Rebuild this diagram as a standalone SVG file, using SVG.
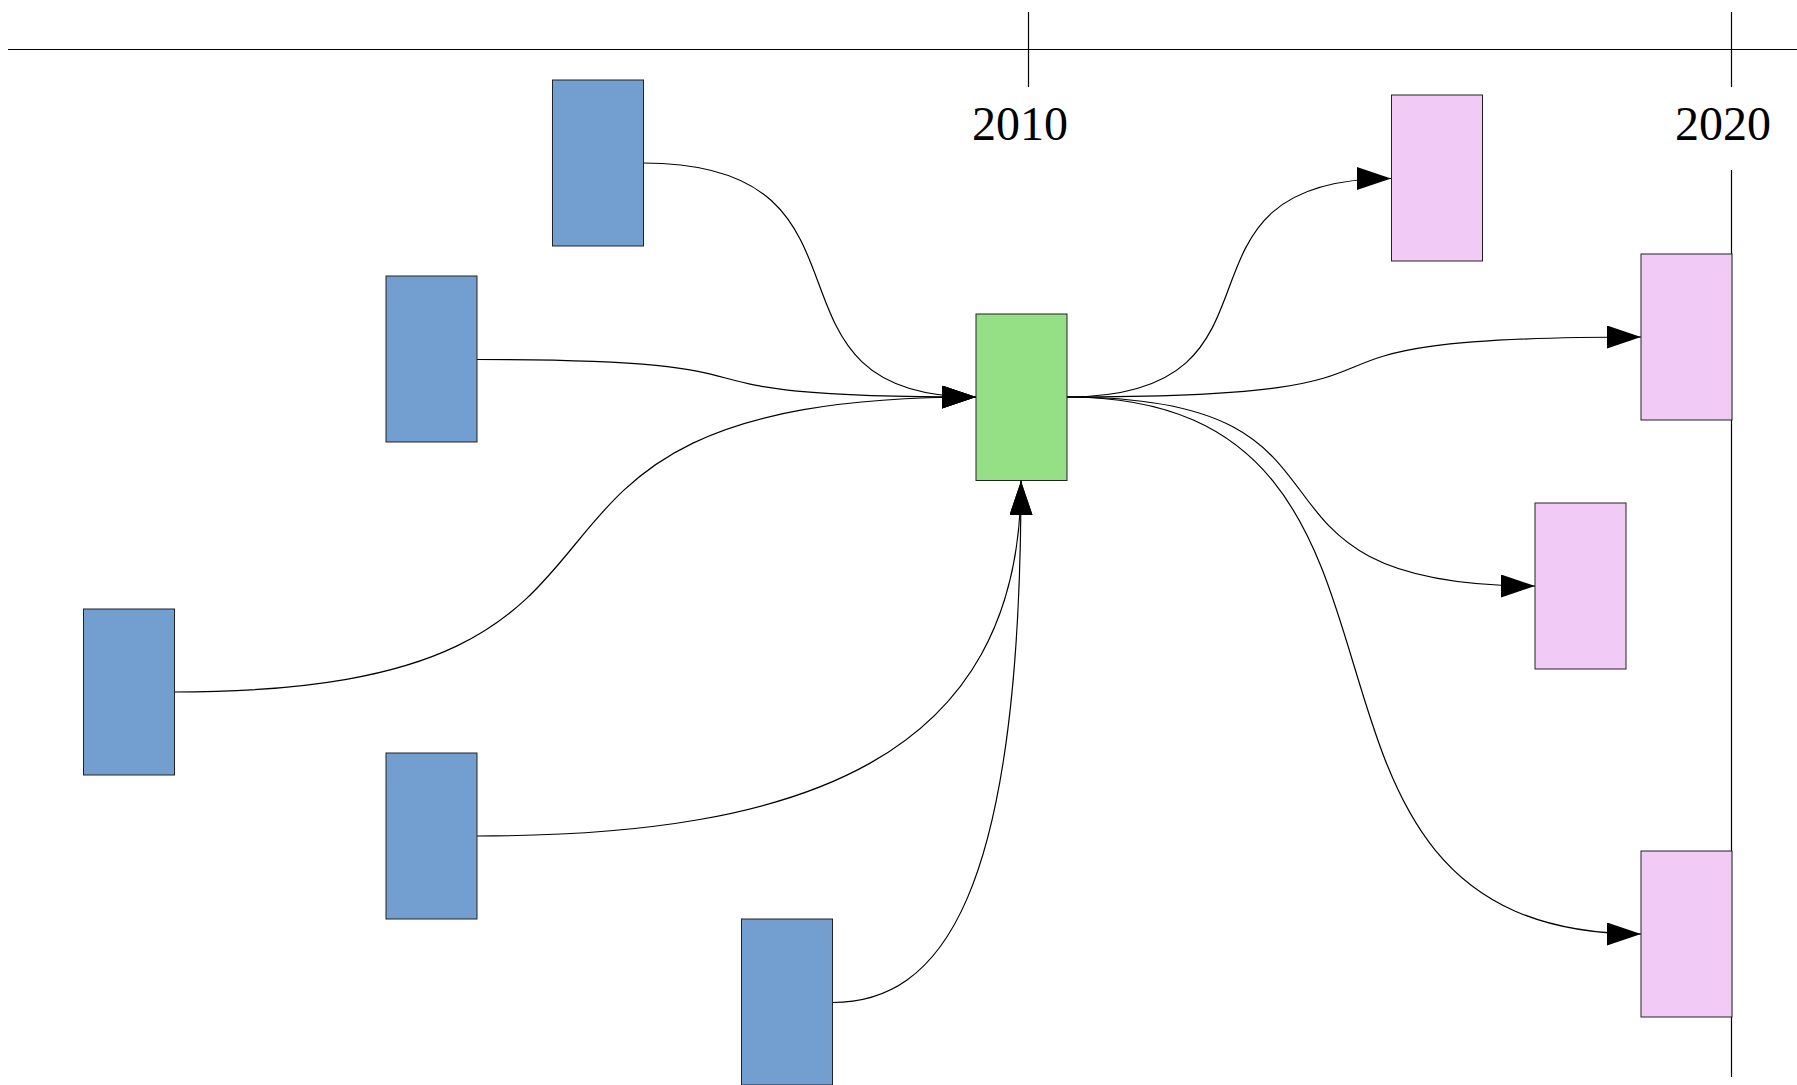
<svg xmlns="http://www.w3.org/2000/svg" width="1797" height="1085" viewBox="0 0 1797 1085">
<style>
.axis{stroke:#000;stroke-width:1.2;fill:none}
.src{fill:#729fcf;stroke:#222;stroke-width:1}
.mid{fill:#95e085;stroke:#222;stroke-width:1}
.dst{fill:#f1cbf6;stroke:#222;stroke-width:1}
.conn{fill:none;stroke:#000;stroke-width:1.2}
.year{font-family:"Liberation Serif",serif;font-size:48px;fill:#000;text-anchor:middle}
</style>
<defs>
<marker id="arr" markerUnits="userSpaceOnUse" markerWidth="35" markerHeight="24" refX="34" refY="11.5" orient="auto">
<path d="M0,0 L34,11.5 L0,23 z" fill="#000"/>
</marker>
</defs>
<g id="timeline">
<line class="axis" x1="8" y1="49.5" x2="1797" y2="49.5"/>
<line class="axis" x1="1028.5" y1="12" x2="1028.5" y2="87"/>
<line class="axis" x1="1731.5" y1="12" x2="1731.5" y2="87"/>
<line class="axis" x1="1731.5" y1="170" x2="1731.5" y2="1077"/>
<text class="year" x="1020" y="140">2010</text>
<text class="year" x="1723" y="140">2020</text>
</g>
<g id="connectors">
<path class="conn" d="M643,163 C900,163 740,397 976,397" marker-end="url(#arr)"/>
<path class="conn" d="M477,359.5 C836,359.5 617,397 976,397" marker-end="url(#arr)"/>
<path class="conn" d="M174,692 C735,692 415,397 976,397" marker-end="url(#arr)"/>
<path class="conn" d="M477,836 C800,836 1021,760 1021,481" marker-end="url(#arr)"/>
<path class="conn" d="M832,1002.5 C940,1002.5 1021,900 1021,481" marker-end="url(#arr)"/>
<path class="conn" d="M1067,397 C1310,397 1148,178.5 1391,178.5" marker-end="url(#arr)"/>
<path class="conn" d="M1067,397 C1497,397 1211,337 1641,337" marker-end="url(#arr)"/>
<path class="conn" d="M1067,397 C1395,397 1207,586 1535,586" marker-end="url(#arr)"/>
<path class="conn" d="M1067,397 C1480,397 1228,934 1641,934" marker-end="url(#arr)"/>
</g>
<g id="node-src1"><rect class="src" x="552.5" y="80" width="91" height="166"/></g>
<g id="node-src2"><rect class="src" x="386" y="276" width="91" height="166"/></g>
<g id="node-src3"><rect class="src" x="83.5" y="609" width="91" height="166"/></g>
<g id="node-src4"><rect class="src" x="386" y="753" width="91" height="166"/></g>
<g id="node-src5"><rect class="src" x="741.5" y="919" width="91" height="166"/></g>
<g id="node-center"><rect class="mid" x="976" y="314" width="91" height="166.5"/></g>
<g id="node-dst1"><rect class="dst" x="1391.5" y="95" width="91" height="166"/></g>
<g id="node-dst2"><rect class="dst" x="1641" y="254" width="91" height="166"/></g>
<g id="node-dst3"><rect class="dst" x="1535" y="503" width="91" height="166"/></g>
<g id="node-dst4"><rect class="dst" x="1641" y="851" width="91" height="166"/></g>
</svg>
